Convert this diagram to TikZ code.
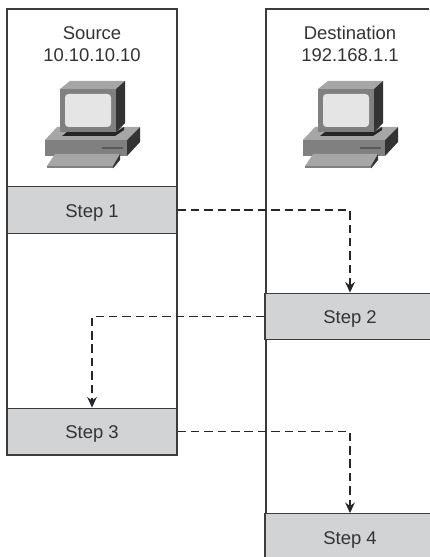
\documentclass[tikz,border=0pt]{standalone}
\usepackage{fontspec}
\setmainfont{Liberation Sans}
\usetikzlibrary{arrows.meta}
\definecolor{stepgray}{RGB}{209,211,212}
\definecolor{lineink}{RGB}{60,60,60}
\tikzset{
  stepbox/.style={draw=lineink,line width=0.8pt,fill=stepgray,minimum width=3.4cm,minimum height=0.93cm,inner sep=0pt,text height=8pt,text depth=0pt,text=black!80,font=\fontsize{10.5}{12}\selectfont},
  hop/.style={dash pattern=on 4.8pt off 2.8pt,line width=0.6pt,draw=black!85,-{Stealth[length=6pt,width=5.5pt]}},
  colframe/.style={draw=lineink,line width=0.8pt},
  hosttext/.style={align=center,text=black!80,font=\fontsize{10.5}{12.5}\selectfont}
}
% one desktop computer, origin at the top left of the screen case
\newcommand{\desktop}[2]{
\begin{scope}[shift={(#1,#2)}]
\fill[gray!70] (-15,51) -- (-3,38) -- (80,38) -- (67,51) -- cycle;
\fill[gray] (-15,51) rectangle (67,67);
\fill[black!80] (67,51) -- (80,38) -- (80,53) -- (67,67) -- cycle;
\fill[black!85] (2,47) -- (7,43) -- (56,43) -- (64,38) -- (64,41) -- (55,47) -- cycle;
\fill[black!65] (42,58) rectangle (63,60);
\fill[gray!70] (-13,77) -- (-5,65) -- (60,65) -- (53,77) -- cycle;
\fill[gray] (-13,77) rectangle (53,79.5);
\fill[black!80] (53,77) -- (60,65) -- (60,71) -- (53,79.5) -- cycle;
\fill[gray!70] (0,0) -- (10,-8) -- (65,-8) -- (56,0) -- cycle;
\fill[black!80] (56,0) -- (65,-8) -- (65,34) -- (56,43) -- cycle;
\fill[gray] (0,0) rectangle (56,43);
\fill[black!10,rounded corners=2pt] (5,5) rectangle (51,38);
\end{scope}
}
\begin{document}
\begin{tikzpicture}[x=0.02cm,y=-0.02cm]
\useasboundingbox (0,0) rectangle (429,557);
\draw[colframe] (7,9) rectangle (177,455);
\draw[colframe] (429,9) -- (266,9) -- (266,557);
\node[hosttext] (src) at (92,44) {Source\\10.10.10.10};
\node[hosttext] (dst) at (350,44) {Destination\\192.168.1.1};
\desktop{60}{89}
\desktop{318}{89}
\node[stepbox] (s1) at (92,210) {Step 1};
\node[stepbox] (s3) at (92,431.5) {Step 3};
\node[stepbox] (s2) at (350,316.5) {Step 2};
\node[stepbox] (s4) at (350,537) {Step 4};
\draw[hop] (s1.east) -| (s2.north);
\draw[hop] (s2.west) -| (s3.north);
\draw[hop] (s3.east) -| (s4.north);
\end{tikzpicture}
\end{document}
